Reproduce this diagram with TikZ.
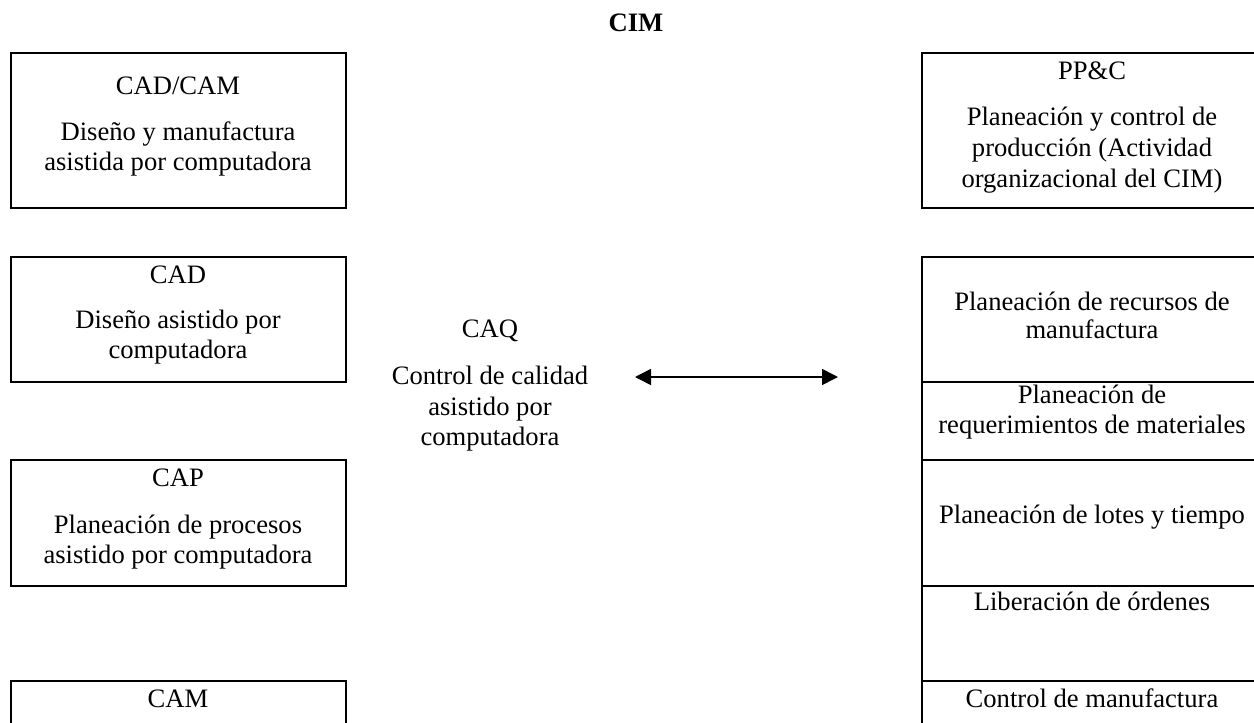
\documentclass[tikz,border=0pt]{standalone}
\usepackage{fontspec}
\setmainfont{Liberation Serif}
\usetikzlibrary{arrows.meta,fit}
\begin{document}
\begin{tikzpicture}[x=0.5pt,y=-0.5pt,
  box/.style={draw, line width=1pt, rectangle, inner sep=0pt},
  txt/.style={anchor=base, inner sep=0pt, font=\fontsize{13.3}{16}\selectfont},
  ttl/.style={anchor=base, inner sep=0pt, font=\fontsize{13.3}{16}\selectfont\bfseries},
  dbl/.style={line width=0.8pt, {Triangle[length=8pt,width=8pt]}-{Triangle[length=8pt,width=8pt]}}]
\useasboundingbox (0,0) rectangle (1254,723);
\clip (0,0) rectangle (1254,723);
% title
\node[ttl] (cim) at (636,31) {CIM};
% left column boxes
\node[box, fit={(11,53) (346,208)}] (bcadcam) {};
\node[box, fit={(11,257) (346,382)}] (bcad) {};
\node[box, fit={(11,460) (346,586)}] (bcap) {};
\node[box, fit={(11,681) (346,770)}] (bcam) {};
% right column boxes
\node[box, fit={(922,53) (1262,208)}] (bppc) {};
\node[box, fit={(922,257) (1262,382)}] (bmrp2) {};
\node[box, fit={(922,382) (1262,460)}] (bmrp) {};
\node[box, fit={(922,460) (1262,586)}] (blot) {};
\node[box, fit={(922,586) (1262,681)}] (blib) {};
\node[box, fit={(922,681) (1262,770)}] (bctl) {};
% left texts
\node[txt] (t1a) at (178,94) {CAD/CAM};
\node[txt] (t1b) at (178,140) {Diseño y manufactura};
\node[txt] (t1c) at (178,170) {asistida por computadora};
\node[txt] (t2a) at (178,283) {CAD};
\node[txt] (t2b) at (178,328) {Diseño asistido por};
\node[txt] (t2c) at (178,358) {computadora};
\node[txt] (t3a) at (178,486) {CAP};
\node[txt] (t3b) at (178,533) {Planeación de procesos};
\node[txt] (t3c) at (178,563) {asistido por computadora};
\node[txt] (t4a) at (178,707) {CAM};
% right texts
\node[txt] (r1a) at (1092,79) {PP\&C};
\node[txt] (r1b) at (1092,125) {Planeación y control de};
\node[txt] (r1c) at (1092,156) {producción (Actividad};
\node[txt] (r1d) at (1092,187) {organizacional del CIM)};
\node[txt] (r2a) at (1092,310) {Planeación de recursos de};
\node[txt] (r2b) at (1092,338) {manufactura};
\node[txt] (r3a) at (1092,403) {Planeación de};
\node[txt] (r3b) at (1092,433) {requerimientos de materiales};
\node[txt] (r4a) at (1092,523) {Planeación de lotes y tiempo};
\node[txt] (r5a) at (1092,610) {Liberación de órdenes};
\node[txt] (r6a) at (1092,707) {Control de manufactura};
% CAQ
\node[txt] (q1) at (490,337) {CAQ};
\node[txt] (q2) at (490,384) {Control de calidad};
\node[txt] (q3) at (490,415) {asistido por};
\node[txt] (q4) at (490,445) {computadora};
% arrow
\coordinate (al) at (635,377);
\coordinate (ar) at (838,377);
\draw[dbl] (al) -- (ar);
\end{tikzpicture}
\end{document}
